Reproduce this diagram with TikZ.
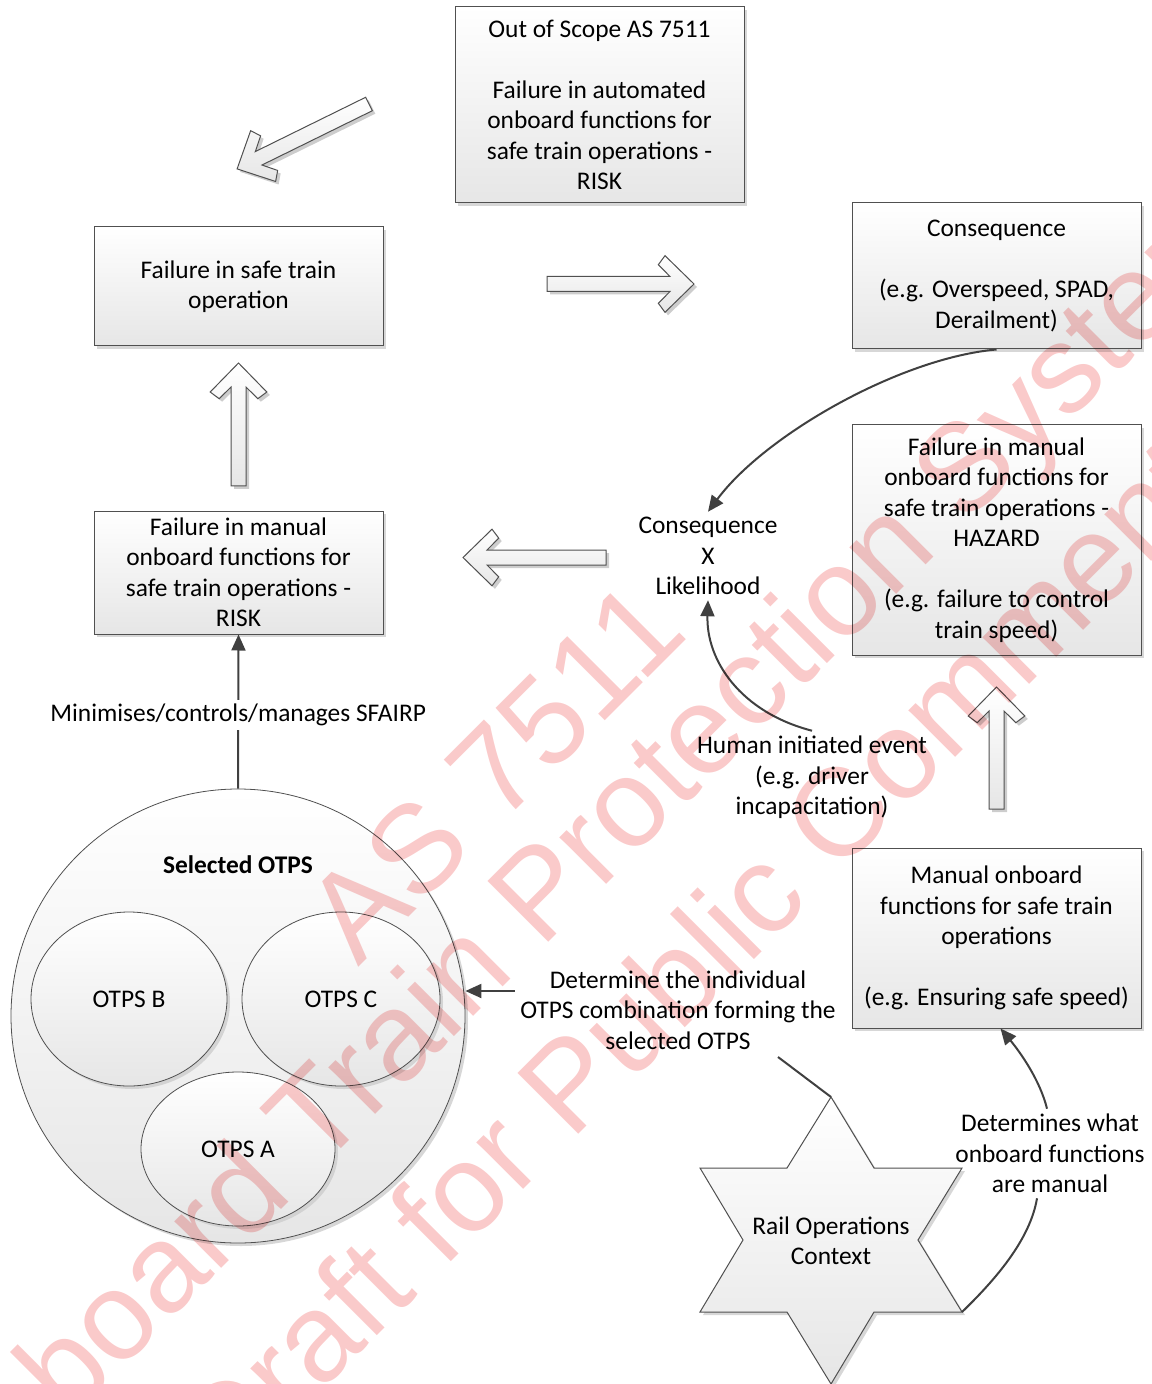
\documentclass[tikz,border=0pt]{standalone}
\usepackage{fontspec}
\setmainfont{Carlito}
\newfontfamily\wmfont{Liberation Sans}
\usetikzlibrary{shapes.geometric,arrows.meta,shadows,calc}

\definecolor{edge}{RGB}{80,80,80}
\definecolor{wire}{RGB}{64,64,64}
\definecolor{fillbot}{RGB}{230,230,230}
\definecolor{wmred}{RGB}{250,202,202}
\definecolor{shadowgray}{RGB}{205,205,205}

\tikzset{
  txt/.style={font=\fontsize{12.7}{15.25}\selectfont},
  softshadow/.style={drop shadow={shadow xshift=1.5pt, shadow yshift=-1.5pt, fill=shadowgray, opacity=0.8}},
  box/.style={draw=edge, line width=0.5pt, top color=white, bottom color=fillbot,
    minimum width=144.5pt, align=center, inner sep=0pt, softshadow},
  oval/.style={ellipse, draw=edge, line width=0.4pt, top color=white, bottom color=fillbot,
    inner sep=0pt, softshadow},
  note/.style={align=center, inner sep=2.5pt},
  conn/.style={draw=wire, line width=1pt, -{Triangle[length=8pt,width=7pt]}},
  wireline/.style={draw=wire, line width=1pt},
  hollow/.style={draw=edge, line width=0.5pt, top color=white, bottom color=fillbot},
  wm/.style={font=\wmfont\fontsize{62.5}{70}\selectfont, text=wmred, rotate=45, inner sep=0pt}
}

% hollow block arrow: tail x, tail y, direction angle, length (all in pixels)
\newcommand{\hollowarrow}[4]{%
  \begin{scope}[shift={(#1+3,#2+3)}, rotate=#3]
    \fill[shadowgray] (0,-7.5) -- ({#4-24},-7.5) -- ({#4-35.7},-19.3) -- ({#4-29},-28.3) -- (#4,0)
      -- ({#4-29},28.3) -- ({#4-35.7},19.3) -- ({#4-24},7.5) -- (0,7.5) -- cycle;
  \end{scope}
  \begin{scope}[shift={(#1,#2)}, rotate=#3]
    \draw[hollow] (0,-7.5) -- ({#4-24},-7.5) -- ({#4-35.7},-19.3) -- ({#4-29},-28.3) -- (#4,0)
      -- ({#4-29},28.3) -- ({#4-35.7},19.3) -- ({#4-24},7.5) -- (0,7.5) -- cycle;
  \end{scope}}

\begin{document}
\begin{tikzpicture}[x=0.5pt, y=-0.5pt, txt]
\useasboundingbox (0,0) rectangle (1151,1384);

% block arrows between the stages
\hollowarrow{369}{104}{206.2}{147}
\hollowarrow{547}{284}{0}{147}
\hollowarrow{606}{557.5}{180}{143}
\hollowarrow{238.5}{486}{90}{123}
\hollowarrow{996.5}{809}{90}{122}

% boxes
\node[box, minimum height=98pt] (scope) at (599.5,105)
  {Out of Scope AS 7511\\[15.25pt]Failure in automated\\onboard functions for\\safe train operations -\\RISK};
\node[box, minimum height=59.5pt] (safe) at (238.5,286.5)
  {Failure in safe train\\operation};
\node[box, minimum height=73pt] (conseq) at (996.5,276)
  {Consequence\\[15.25pt](e.g. Overspeed, SPAD,\\Derailment)};
\node[box, minimum height=115pt] (hazard) at (996.5,540)
  {Failure in manual\\onboard functions for\\safe train operations -\\HAZARD\\[15.25pt](e.g. failure to control\\train speed)};
\node[box, minimum height=61.5pt] (risk) at (238.5,572.5)
  {Failure in manual\\onboard functions for\\safe train operations -\\RISK};
\node[box, minimum height=90pt] (manual) at (996.5,938)
  {Manual onboard\\functions for safe train\\operations\\[15.25pt](e.g. Ensuring safe speed)};

% selected OTPS group
\node[circle, draw=edge, line width=0.4pt, top color=white, bottom color=fillbot,
  minimum size=227pt, inner sep=0pt, softshadow] (circ) at (238,1016) {};
\node (sel) at (238,865) {\bfseries Selected OTPS};
\node[oval, minimum width=98pt, minimum height=87pt] (otpsb) at (129,999) {OTPS B};
\node[oval, minimum width=99pt, minimum height=87pt] (otpsc) at (341,999) {OTPS C};
\node[oval, minimum width=97pt, minimum height=77pt] (otpsa) at (238,1149) {OTPS A};

% rail operations context star
\draw[hollow, softshadow] (831,1097) -- (874,1168) -- (962,1168) -- (918,1240) -- (962,1312)
  -- (874,1312) -- (831,1384) -- (787,1312) -- (700,1312) -- (743,1240) -- (700,1168)
  -- (787,1168) -- cycle;
\coordinate (startop) at (831,1097);
\coordinate (starright) at (962,1312);
\node[align=center] (rail) at (831,1241) {Rail Operations\\Context};

% free-standing labels
\node[note] (cxl) at (708,556) {Consequence\\X\\Likelihood};
\node[note] (human) at (812,777.5) {Human initiated event\\(e.g. driver\\incapacitation)};
\node[note] (det) at (678,1010) {Determine the individual\\OTPS combination forming the\\selected OTPS};
\node[note] (detw) at (1050,1153.5) {Determines what\\onboard functions\\are manual};
\coordinate (dettail) at (778,1057);

% connectors
\draw[conn] (conseq.south) .. controls (900,358) and (765,435) .. (cxl.north);
\draw[conn] (human.north) .. controls (740,712) and (706,660) .. (cxl.south);
\draw[conn] (circ.north) -- node[pos=0.48, fill=white, inner sep=2pt] (minlbl)
  {Minimises/controls/manages SFAIRP} (risk.south);
\draw[wireline] (startop) -- (dettail);
\draw[conn] ([yshift=9.5pt]det.west) -- ([yshift=9.5pt]det.west -| circ.east);
\draw[wireline] (starright) .. controls (995,1280) and (1030,1240) .. ([xshift=-6.5pt]detw.south);
\draw[conn] ([xshift=-1.5pt]detw.north) .. controls (1040,1080) and (1020,1052) .. ([xshift=2pt]manual.south);

% draft watermark
\begin{scope}[blend mode=multiply]
\node[wm] (wm1) at (494,771) {AS 7511};
\node[wm] (wm2) at (604,841) {Onboard Train Protection Systems};
\node[wm] (wm3) at (692,958) {Draft for Public Comment};
\end{scope}
\end{tikzpicture}
\end{document}
